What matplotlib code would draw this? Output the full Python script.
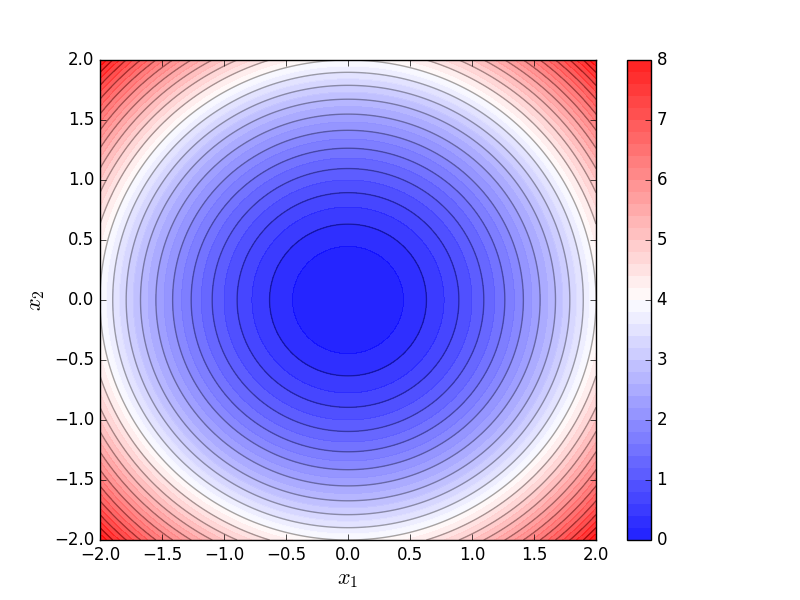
import numpy as np
import matplotlib
matplotlib.use('Agg')
import matplotlib.pyplot as plt

plt.style.use('classic')

# grid range and contour levels
x1_range = [-2.0, 2.0]
x2_range = [-2.0, 2.0]
fill_levels = np.linspace(0, 8, 41)
line_levels = np.linspace(0, 8, 21)
cbar_ticks = [0, 1, 2, 3, 4, 5, 6, 7, 8]

x1 = np.linspace(x1_range[0], x1_range[1], 400)
x2 = np.linspace(x2_range[0], x2_range[1], 400)
X1, X2 = np.meshgrid(x1, x2)
F = X1 ** 2 + X2 ** 2

fig = plt.figure(figsize=(8, 6), dpi=100)
ax = fig.add_subplot(111)
cf = ax.contourf(X1, X2, F, levels=fill_levels, cmap='bwr', alpha=0.88)
ax.contour(X1, X2, F, levels=line_levels, colors='k', alpha=0.35, linewidths=1)
cb = fig.colorbar(cf, ax=ax, ticks=cbar_ticks)
ax.set_xlim(x1_range)
ax.set_ylim(x2_range)
ax.set_xlabel(r'$x_1$', fontsize=16)
ax.set_ylabel(r'$x_2$', fontsize=16)

fig.savefig('out.png')
